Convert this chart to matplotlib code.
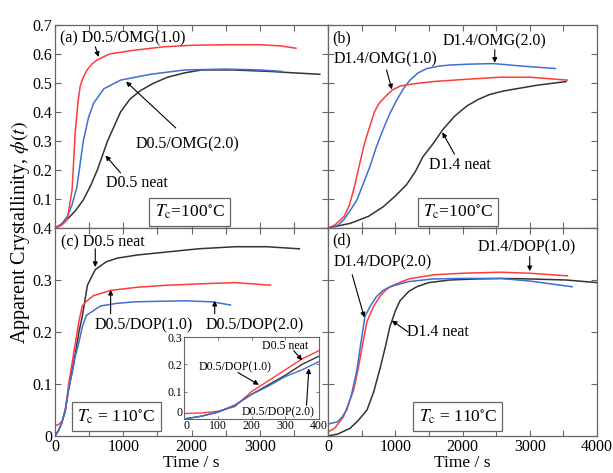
import numpy as np
import matplotlib.pyplot as plt
from matplotlib.ticker import MultipleLocator, FixedLocator

plt.rcParams['font.family'] = ['Liberation Serif', 'DejaVu Serif']
plt.rcParams['mathtext.fontset'] = 'stix'

# ---- data (time in s, apparent crystallinity) ----
# (a) D0.5 / OMG, Tc = 100 C
a_red_t = [0, 100, 180, 250, 296, 340, 370, 415, 470, 540, 620, 800, 1160, 1600, 2000, 2500, 3000, 3300, 3530]
a_red_v = [0, 0.01, 0.03, 0.13, 0.33, 0.44, 0.49, 0.52, 0.545, 0.565, 0.58, 0.60, 0.613, 0.625, 0.63, 0.632, 0.632, 0.628, 0.62]
a_blue_t = [0, 100, 180, 250, 320, 415, 490, 565, 715, 960, 1400, 1900, 2500, 3000, 3330]
a_blue_v = [0, 0.015, 0.04, 0.08, 0.14, 0.30, 0.38, 0.43, 0.48, 0.51, 0.53, 0.545, 0.548, 0.545, 0.54]
a_black_t = [0, 100, 180, 300, 415, 520, 620, 770, 960, 1100, 1260, 1450, 1650, 1900, 2150, 2600, 3140, 3500, 3880]
a_black_v = [0, 0.012, 0.03, 0.06, 0.097, 0.145, 0.2, 0.30, 0.40, 0.445, 0.475, 0.50, 0.52, 0.535, 0.545, 0.545, 0.54, 0.535, 0.53]

# (b) D1.4 / OMG, Tc = 100 C
b_red_t = [0, 100, 240, 320, 390, 460, 540, 620, 690, 760, 840, 950, 1080, 1300, 1570, 2000, 2560, 3000, 3560]
b_red_v = [0, 0.01, 0.04, 0.08, 0.14, 0.21, 0.29, 0.35, 0.40, 0.43, 0.45, 0.475, 0.49, 0.498, 0.505, 0.512, 0.52, 0.52, 0.51]
b_blue_t = [0, 150, 240, 330, 430, 520, 620, 720, 820, 920, 1020, 1120, 1220, 1340, 1470, 1650, 1810, 2100, 2460, 2900, 3380]
b_blue_v = [0, 0.01, 0.03, 0.06, 0.097, 0.15, 0.21, 0.28, 0.34, 0.395, 0.44, 0.48, 0.51, 0.535, 0.55, 0.558, 0.562, 0.565, 0.567, 0.558, 0.55]
b_black_t = [0, 330, 600, 820, 1000, 1170, 1300, 1410, 1560, 1710, 1880, 2060, 2230, 2400, 2600, 2800, 3100, 3540]
b_black_v = [0, 0.016, 0.04, 0.073, 0.11, 0.15, 0.195, 0.245, 0.29, 0.34, 0.385, 0.42, 0.443, 0.46, 0.472, 0.48, 0.492, 0.505]

# (c) D0.5 / DOP, Tc = 110 C
c_black_t = [0, 50, 100, 150, 200, 250, 300, 350, 400, 475, 590, 750, 910, 1200, 1650, 2100, 2640, 3100, 3580]
c_black_v = [0, 0.01, 0.025, 0.05, 0.09, 0.125, 0.16, 0.2, 0.23, 0.29, 0.32, 0.335, 0.342, 0.348, 0.354, 0.36, 0.364, 0.364, 0.36]
c_red_t = [0, 50, 100, 150, 200, 250, 300, 350, 400, 450, 565, 815, 1200, 1650, 2200, 2640, 3160]
c_red_v = [0.02, 0.022, 0.028, 0.045, 0.1, 0.14, 0.18, 0.22, 0.25, 0.258, 0.27, 0.28, 0.286, 0.29, 0.293, 0.295, 0.29]
c_blue_t = [0, 50, 100, 150, 200, 250, 300, 350, 400, 460, 665, 900, 1160, 1500, 1900, 2300, 2570]
c_blue_v = [0, 0.01, 0.025, 0.05, 0.09, 0.12, 0.155, 0.18, 0.21, 0.232, 0.25, 0.255, 0.258, 0.259, 0.26, 0.258, 0.252]

# (d) D1.4 / DOP, Tc = 110 C
d_red_t = [0, 100, 230, 300, 380, 450, 520, 580, 680, 780, 870, 970, 1200, 1570, 2000, 2560, 3000, 3560]
d_red_v = [0.008, 0.015, 0.037, 0.06, 0.088, 0.13, 0.18, 0.22, 0.25, 0.27, 0.282, 0.29, 0.302, 0.31, 0.313, 0.315, 0.313, 0.308]
d_blue_t = [0, 135, 200, 280, 350, 430, 490, 550, 630, 720, 820, 920, 1200, 1560, 2000, 2560, 3000, 3630]
d_blue_v = [0.023, 0.027, 0.035, 0.05, 0.08, 0.127, 0.18, 0.23, 0.25, 0.268, 0.28, 0.287, 0.297, 0.302, 0.303, 0.303, 0.298, 0.287]
d_black_t = [0, 150, 330, 450, 580, 680, 780, 850, 920, 1000, 1070, 1200, 1320, 1500, 1810, 2200, 2600, 3000, 3540, 4000]
d_black_v = [0, 0.004, 0.015, 0.03, 0.05, 0.085, 0.133, 0.17, 0.21, 0.24, 0.26, 0.278, 0.287, 0.295, 0.30, 0.302, 0.303, 0.302, 0.30, 0.295]

RED = '#ff3b3b'
BLUE = '#3d6fd6'
BLACK = '#333333'
EDGE = '#666666'

fig = plt.figure(figsize=(6.13, 4.73), dpi=100)

x0, xm, x1 = 55/613, 328/613, 597/613
yb, ym, yt = 1-436/473, 1-228/473, 1-25/473
axa = fig.add_axes([x0, ym, xm-x0, yt-ym])
axb = fig.add_axes([xm, ym, x1-xm, yt-ym])
axc = fig.add_axes([x0, yb, xm-x0, ym-yb])
axd = fig.add_axes([xm, yb, x1-xm, ym-yb])

def style(ax, ymax):
    ax.set_xlim(0, 4000)
    ax.set_ylim(0, ymax)
    ax.xaxis.set_major_locator(MultipleLocator(1000))
    ax.xaxis.set_minor_locator(MultipleLocator(500))
    ax.yaxis.set_major_locator(MultipleLocator(0.1))
    ax.tick_params(which='both', direction='in', top=True, right=True,
                   length=4, width=0.8, color=EDGE, labelsize=11.5, pad=2)
    for s in ax.spines.values():
        s.set_color(EDGE)
        s.set_linewidth(0.9)

for ax in (axa, axb):
    style(ax, 0.7)
    ax.set_xticklabels([])
for ax in (axc, axd):
    style(ax, 0.4)
axb.set_yticklabels([])
axd.set_yticklabels([])

axa.yaxis.set_major_locator(FixedLocator([0.1, 0.2, 0.3, 0.4, 0.5, 0.6, 0.7]))
axa.yaxis.set_minor_locator(FixedLocator([0.0]))
axa.tick_params(which='minor', length=4)
axc.set_yticks([0, 0.1, 0.2, 0.3, 0.4])
axc.set_yticklabels(['0', '0.1', '0.2', '0.3', '0.4'])
axc.set_xticks([0, 1000, 2000, 3000, 4000])
axc.set_xticklabels(['0', '1000', '2000', '3000', ''])
axd.set_xticks([0, 1000, 2000, 3000, 4000])
axd.set_xticklabels(['0', '1000', '2000', '3000', '4000'])

lw = 1.1
axa.plot(a_black_t, a_black_v, color=BLACK, lw=lw)
axa.plot(a_blue_t, a_blue_v, color=BLUE, lw=lw)
axa.plot(a_red_t, a_red_v, color=RED, lw=lw)
axb.plot(b_black_t, b_black_v, color=BLACK, lw=lw)
axb.plot(b_blue_t, b_blue_v, color=BLUE, lw=lw)
axb.plot(b_red_t, b_red_v, color=RED, lw=lw)
axc.plot(c_black_t, c_black_v, color=BLACK, lw=lw)
axc.plot(c_red_t, c_red_v, color=RED, lw=lw)
axc.plot(c_blue_t, c_blue_v, color=BLUE, lw=lw)
axd.plot(d_black_t, d_black_v, color=BLACK, lw=lw)
axd.plot(d_red_t, d_red_v, color=RED, lw=lw)
axd.plot(d_blue_t, d_blue_v, color=BLUE, lw=lw)

arr = dict(arrowstyle='-|>', color='black', lw=0.8, mutation_scale=7, shrinkA=0, shrinkB=0)
fs = 11.5

def arrow(ax, start, end):
    ax.annotate('', xy=end, xytext=start, arrowprops=arr)

# (a)
axa.text(70, 0.655, '(a) D0.5/OMG(1.0)', fontsize=fs, va='center')
arrow(axa, (590, 0.625), (640, 0.59))
axa.text(1940, 0.29, 'D0.5/OMG(2.0)', fontsize=fs, ha='center', va='center')
arrow(axa, (1770, 0.345), (1040, 0.505))
axa.text(1200, 0.155, 'D0.5 neat', fontsize=fs, ha='center', va='center')
arrow(axa, (960, 0.19), (740, 0.25))
tbox = dict(boxstyle='square,pad=0.3', fc='white', ec=EDGE, lw=0.9)
axa.text(1970, 0.055, r'$T_{\rm c}$=100$^{\circ}$C', fontsize=12.5, ha='center', va='center', bbox=tbox)

# (b)
axb.text(60, 0.655, '(b)', fontsize=fs, va='center')
axb.text(2480, 0.645, 'D1.4/OMG(2.0)', fontsize=fs, ha='center', va='center')
arrow(axb, (2480, 0.615), (2480, 0.57))
axb.text(850, 0.58, 'D1.4/OMG(1.0)', fontsize=fs, ha='center', va='center')
arrow(axb, (870, 0.545), (950, 0.478))
axb.text(1960, 0.217, 'D1.4 neat', fontsize=fs, ha='center', va='center')
arrow(axb, (1880, 0.255), (1700, 0.33))
axb.text(1930, 0.055, r'$T_{\rm c}$=100$^{\circ}$C', fontsize=12.5, ha='center', va='center', bbox=tbox)

# (c)
axc.text(90, 0.372, '(c) D0.5 neat', fontsize=fs, va='center')
arrow(axc, (590, 0.36), (590, 0.325))
axc.text(1300, 0.213, 'D0.5/DOP(1.0)', fontsize=fs, ha='center', va='center')
arrow(axc, (815, 0.235), (815, 0.281))
axc.text(2930, 0.213, 'D0.5/DOP(2.0)', fontsize=fs, ha='center', va='center')
arrow(axc, (2340, 0.235), (2340, 0.26))
axc.text(900, 0.037, r'$T_{\rm c}$ = 110$^{\circ}$C', fontsize=12.5, ha='center', va='center', bbox=tbox)

# (d)
axd.text(60, 0.377, '(d)', fontsize=fs, va='center')
axd.text(2960, 0.362, 'D1.4/DOP(1.0)', fontsize=fs, ha='center', va='center')
arrow(axd, (3000, 0.345), (3000, 0.317))
axd.text(810, 0.333, 'D1.4/DOP(2.0)', fontsize=fs, ha='center', va='center')
arrow(axd, (360, 0.31), (540, 0.228))
axd.text(1630, 0.2, 'D1.4 neat', fontsize=fs, ha='center', va='center')
arrow(axd, (1190, 0.2), (950, 0.222))
axd.text(1930, 0.037, r'$T_{\rm c}$ = 110$^{\circ}$C', fontsize=12.5, ha='center', va='center', bbox=tbox)

# inset in (c)
axi = fig.add_axes([184/613, 1-419/473, 135/613, 82/473])
axi.plot(c_red_t, c_red_v, color=RED, lw=1.0)
axi.plot(c_black_t, c_black_v, color=BLACK, lw=1.0)
axi.plot(c_blue_t, c_blue_v, color=BLUE, lw=1.0)
axi.set_xlim(0, 400)
axi.set_ylim(0, 0.3)
axi.set_xticks([0, 100, 200, 300, 400])
axi.set_xticklabels(['0', '100', '200', '300', '400'])
axi.set_yticks([0, 0.1, 0.2, 0.3])
axi.set_yticklabels(['0', '0.1', '0.2', '0.3'])
axi.tick_params(direction='in', top=True, right=True, length=2.5, width=0.6,
                color=EDGE, labelsize=8.5, pad=1)
axi.get_yticklabels()[0].set_verticalalignment('bottom')
axi.get_xticklabels()[0].set_horizontalalignment('left')
for s in axi.spines.values():
    s.set_color(EDGE)
    s.set_linewidth(0.8)
axi.text(300, 0.268, 'D0.5 neat', fontsize=8.5, ha='center', va='center')
arrow(axi, (325, 0.25), (350, 0.215))
axi.text(150, 0.19, 'D0.5/DOP(1.0)', fontsize=8.5, ha='center', va='center')
arrow(axi, (160, 0.17), (222, 0.125))
axi.text(280, 0.025, 'D0.5/DOP(2.0)', fontsize=8.5, ha='center', va='center')
arrow(axi, (363, 0.05), (370, 0.185))

fig.text(0.5*(x0+xm), 1-463/473, 'Time / s', fontsize=12.5, ha='center', va='center')
fig.text(0.5*(xm+x1), 1-463/473, 'Time / s', fontsize=12.5, ha='center', va='center')
fig.text(0.033, 1-232/473, r'Apparent Crystallinity, $\phi(t)$', fontsize=14.5,
         rotation=90, ha='center', va='center')

fig.savefig('out.png', dpi=100)
